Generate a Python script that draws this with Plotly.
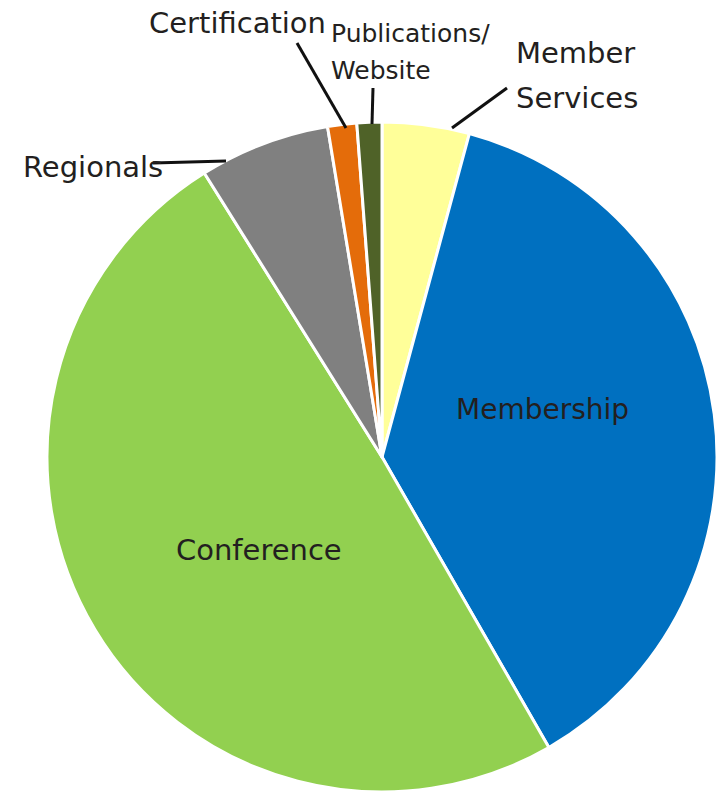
import plotly.graph_objects as go

categories = ["Member Services", "Membership", "Conference", "Regionals", "Certification", "Publications/Website"]
values = [4.2, 37.5, 49.4, 6.3, 1.4, 1.2]
colors = ["#FFFF99", "#0070C0", "#92D050", "#808080", "#E46C0A", "#4F6228"]

W, H = 719, 795
FONT = "DejaVu Sans"
TXT = "#231F20"

def px(x):
    return x / W

def py(y):
    return 1 - y / H

cx, cy, r = 382, 457, 335

fig = go.Figure(go.Pie(
    labels=categories,
    values=values,
    marker=dict(colors=colors, line=dict(color="white", width=3)),
    sort=False,
    direction="clockwise",
    rotation=0,
    textinfo="none",
    hoverinfo="label+percent",
    showlegend=False,
    domain=dict(x=[px(cx - r), px(cx + r)], y=[py(cy + r), py(cy - r)]),
))

# label annotations (text, x, y, size, anchor)
labels = [
    ("Membership", 542, 409, 28, "center"),
    ("Conference", 259, 550, 29, "center"),
    ("Regionals", 21, 167, 29, "left"),
    ("Certification", 147, 23, 29, "left"),
    ("Publications/", 329, 34, 25, "left"),
    ("Website", 329, 71, 25, "left"),
    ("Member", 514, 53, 29, "left"),
    ("Services", 514, 98, 29, "left"),
]
annotations = []
for t, x, y, s, a in labels:
    annotations.append(dict(text=t, x=px(x), y=py(y), xref="paper", yref="paper",
                            xanchor=a, yanchor="middle", showarrow=False,
                            font=dict(family=FONT, size=s, color=TXT)))

leaders = [
    ((452, 128), (507, 88)),
    ((372, 124), (373, 88)),
    ((346, 128), (297, 43)),
    ((226, 161), (153, 163)),
]
shapes = []
for (x0, y0), (x1, y1) in leaders:
    shapes.append(dict(type="line", xref="paper", yref="paper",
                       x0=px(x0), y0=py(y0), x1=px(x1), y1=py(y1),
                       line=dict(color="#111111", width=3)))

fig.update_layout(
    width=W, height=H,
    margin=dict(l=0, r=0, t=0, b=0),
    paper_bgcolor="white", plot_bgcolor="white",
    annotations=annotations, shapes=shapes,
)
fig.write_html("out.html", config={"displayModeBar": False},
               post_script="document.body.style.margin='0';document.body.style.padding='0';")
